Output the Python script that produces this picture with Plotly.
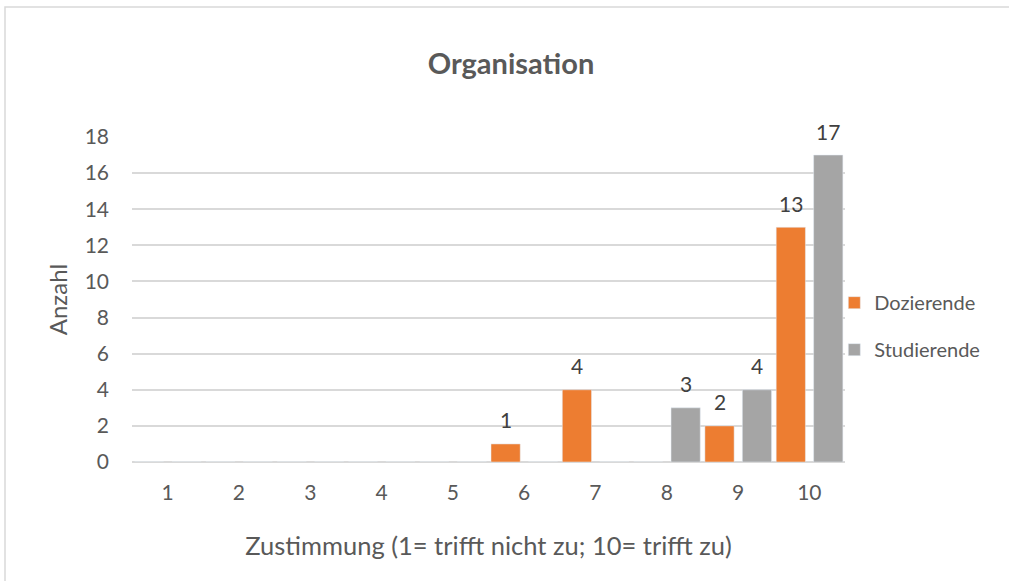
import plotly.graph_objects as go

# survey answers, scale 1..10
categories = ["1", "2", "3", "4", "5", "6", "7", "8", "9", "10"]
dozierende = [0, 0, 0, 0, 0, 1, 4, 0, 2, 13]
studierende = [0, 0, 0, 0, 0, 0, 0, 3, 4, 17]
y_ticks = [0, 2, 4, 6, 8, 10, 12, 14, 16, 18]

FONT = "Lato, Carlito, 'Liberation Sans', sans-serif"
GRID = "#D9D9D9"
BAR_W = 0.41
OFFSETS = {"Dozierende": -0.465, "Studierende": 0.06}
COLORS = {"Dozierende": "#ED7D31", "Studierende": "#A5A5A5"}

fig = go.Figure()
annotations = []
for name, values in [("Dozierende", dozierende), ("Studierende", studierende)]:
    fig.add_trace(go.Bar(
        name=name, x=categories, y=values,
        marker_color=COLORS[name], width=BAR_W, offset=OFFSETS[name],
        legendgroup=name,
    ))
    # data labels, Excel hides the zero ones
    centre = OFFSETS[name] + BAR_W / 2
    for k, v in enumerate(values):
        if v:
            annotations.append(dict(
                x=k + centre, y=v, xref="x", yref="y", text=str(v),
                showarrow=False, yanchor="middle", yshift=24,
                font=dict(size=21, color="#404040"),
            ))

fig.update_layout(
    width=1009, height=581,
    margin=dict(l=132, r=164, t=137, b=119),
    paper_bgcolor="white", plot_bgcolor="white",
    barmode="overlay",
    font=dict(family=FONT, color="#595959", size=21),
    title=dict(text="<b>Organisation</b>", x=511 / 1009, xanchor="center",
               y=1 - 64 / 581, yanchor="middle",
               font=dict(size=29, color="#595959")),
    legend=dict(x=0.985, xanchor="left", y=0.418, yanchor="middle",
                bgcolor="rgba(0,0,0,0)",
                tracegroupgap=18, font=dict(size=20, color="#595959")),
    xaxis=dict(type="category", range=[-0.5, 9.5], showgrid=False,
               ticks="", ticklabelstandoff=16,
               title=dict(text="Zustimmung (1= trifft nicht zu; 10= trifft zu)",
                          standoff=34, font=dict(size=25.5))),
    yaxis=dict(range=[0, 18], tickvals=y_ticks, showgrid=True,
               gridcolor=GRID, gridwidth=1.5, zeroline=True,
               zerolinecolor=GRID, zerolinewidth=1.5, ticks="",
               ticklabelstandoff=22,
               title=dict(text="Anzahl", standoff=10, font=dict(size=24))),
    annotations=annotations,
    shapes=[dict(type="rect", xref="paper", yref="paper",
                 x0=(5 - 132) / 713, x1=1.3, y0=-0.6, y1=(462 - 7) / 325,
                 line=dict(color=GRID, width=1.5), layer="below")],
)

fig.write_html("out.html", config={"displayModeBar": False},
               post_script="document.body.style.margin='0';")
